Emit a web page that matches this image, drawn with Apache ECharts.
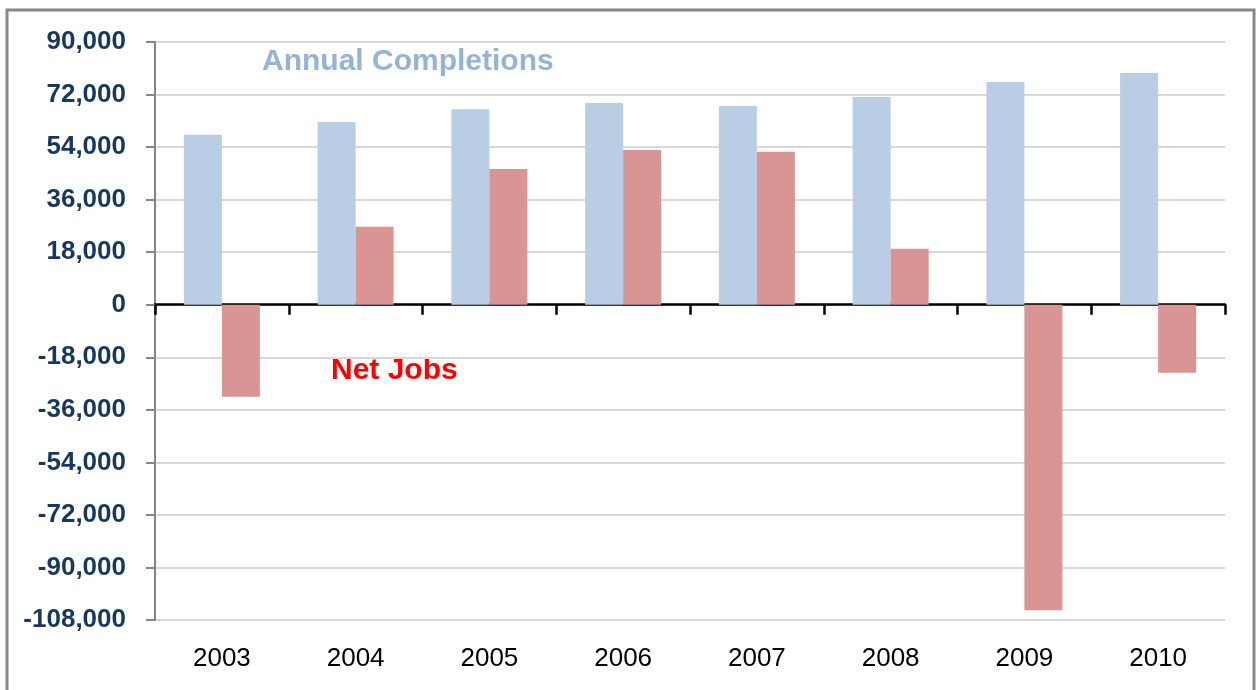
<!DOCTYPE html>
<html>
<head>
<meta charset="utf-8">
<script src="https://cdn.jsdelivr.net/npm/echarts@6/dist/echarts.min.js"></script>
<style>
html,body{margin:0;padding:0;background:#fff;}
#chart{width:1256px;height:690px;}
</style>
</head>
<body>
<div id="chart"></div>
<script>
var categories = ['2003','2004','2005','2006','2007','2008','2009','2010'];
var annualCompletions = [58200, 62600, 67000, 69100, 68100, 71200, 76300, 79400];
var netJobs = [-31500, 26700, 46500, 53000, 52400, 19200, -104700, -23300];
var yMin = -108000, yMax = 90000, yStep = 18000;
var label1 = 'Annual Completions';
var label2 = 'Net Jobs';

var FONT = '"Liberation Sans", Arial, sans-serif';
var chart = echarts.init(document.getElementById('chart'));
chart.setOption({
  animation: false,
  backgroundColor: '#fff',
  grid: {left: 155, right: 31, top: 42, bottom: 70},
  xAxis: [{
    type: 'category',
    data: categories,
    position: 'bottom',
    axisLine: {onZero: true, lineStyle: {color: '#000', width: 2.5}},
    axisTick: {show: true, length: 10, lineStyle: {color: '#000', width: 2.5}},
    axisLabel: {show: false},
    splitLine: {show: false}
  }, {
    type: 'category',
    data: categories,
    position: 'bottom',
    axisLine: {show: false},
    axisTick: {show: false},
    axisLabel: {show: true, color: '#000', fontSize: 26, fontFamily: FONT, margin: 26}
  }],
  yAxis: {
    type: 'value',
    min: yMin, max: yMax, interval: yStep,
    axisLine: {show: true, lineStyle: {color: '#868686', width: 2}},
    axisTick: {show: true, length: 9, lineStyle: {color: '#868686', width: 2}},
    axisLabel: {
      color: '#17375e', fontSize: 26, fontWeight: 'bold', fontFamily: FONT, margin: 29,
      formatter: function (v) { return v.toLocaleString('en-US'); }
    },
    splitLine: {show: true, lineStyle: {color: '#d9d9d9', width: 2}}
  },
  series: [{
    name: label1,
    type: 'bar',
    data: annualCompletions,
    barWidth: 38,
    barGap: '0%',
    itemStyle: {color: '#b9cde5'}
  }, {
    name: label2,
    type: 'bar',
    data: netJobs,
    barWidth: 38,
    barGap: '0%',
    itemStyle: {color: '#d99594'}
  }],
  graphic: [{
    type: 'rect',
    shape: {x: 7, y: 10, width: 1247, height: 700},
    style: {fill: 'none', stroke: '#878787', lineWidth: 3},
    silent: true
  }, {
    type: 'text',
    x: 262, y: 62,
    style: {text: label1, fill: '#95b3d7', font: 'bold 30px ' + FONT, verticalAlign: 'middle', align: 'left'}
  }, {
    type: 'text',
    x: 331, y: 371,
    style: {text: label2, fill: '#ff0000', font: 'bold 30px ' + FONT, verticalAlign: 'middle', align: 'left'}
  }]
});
</script>
</body>
</html>
